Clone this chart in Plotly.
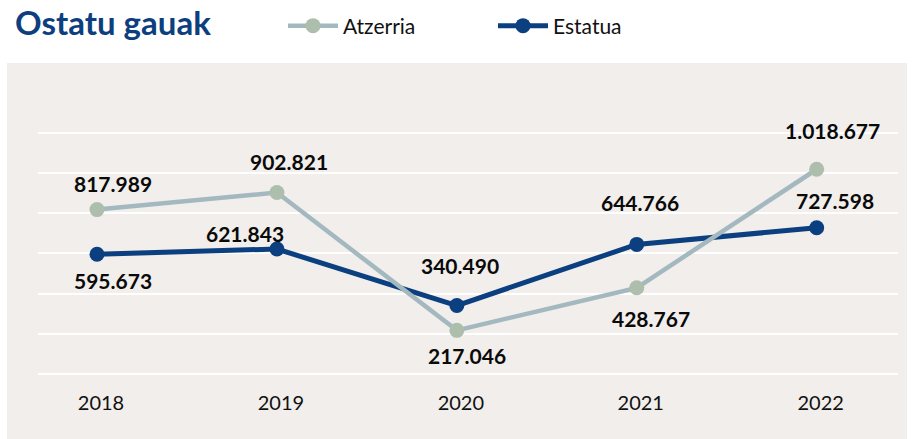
import plotly.graph_objects as go

# ---- data ----
years = ["2018", "2019", "2020", "2021", "2022"]
atzerria = [817989, 902821, 217046, 428767, 1018677]
estatua = [595673, 621843, 340490, 644766, 727598]
series_names = ["Atzerria", "Estatua"]
title_text = "Ostatu gauak"

# ---- style ----
W, H = 914, 439
L, R, T, B = 38, 16, 100, 54
BG = "#f1eeeb"
C_ATZ_LINE = "#a3b9bf"
C_ATZ_MARK = "#adbfac"
C_EST = "#0b3f7f"
TITLE_C = "#0d3f7f"
FONT = "Lato, 'Open Sans', sans-serif"

# label offsets (px) per point: (xshift, yshift)
atz_off = [(16, 26), (12, 31), (10, -25), (14, -31), (16, 39)]
est_off = [(16, -26), (-32, 16), (3, 40), (3, 42), (18, 27)]

xs = list(range(len(years)))

def fmt(v):
    return f"{v:,}".replace(",", ".")

fig = go.Figure()
fig.add_trace(go.Scatter(
    x=xs, y=estatua, name=series_names[1], mode="lines+markers",
    line=dict(color=C_EST, width=5), marker=dict(color=C_EST, size=15),
    legendrank=2, cliponaxis=False))
fig.add_trace(go.Scatter(
    x=xs, y=atzerria, name=series_names[0], mode="lines+markers",
    line=dict(color=C_ATZ_LINE, width=4.5), marker=dict(color=C_ATZ_MARK, size=15),
    legendrank=1, cliponaxis=False))

annotations = []
for vals, offs in ((atzerria, atz_off), (estatua, est_off)):
    for i, (v, (dx, dy)) in enumerate(zip(vals, offs)):
        annotations.append(dict(
            x=xs[i], y=v, text=fmt(v), showarrow=False,
            xshift=dx, yshift=dy,
            font=dict(family=FONT, size=21, color="#0a0a0a", weight="bold")))

# beige panel in pixel terms converted to paper coords
pw, ph = W - L - R, H - T - B
def px_x(p):
    return (p - L) / pw
def px_y(p):
    return (H - B - p) / ph

fig.update_layout(
    width=W, height=H,
    margin=dict(l=L, r=R, t=T, b=B),
    paper_bgcolor="white",
    plot_bgcolor="rgba(0,0,0,0)",
    title=dict(text=title_text, x=15 / W, xanchor="left", y=1 - 23 / H, yanchor="middle",
               xref="container", yref="container",
               font=dict(family=FONT, size=33, color=TITLE_C, weight="bold")),
    legend=dict(orientation="h", xref="container", yref="container",
                x=283 / W, xanchor="left", y=1 - 26 / H, yanchor="middle",
                font=dict(family=FONT, size=21, color="#111111"),
                itemwidth=50,
                entrywidth=145, entrywidthmode="pixels",
                bgcolor="rgba(0,0,0,0)"),
    shapes=[dict(type="rect", xref="paper", yref="paper",
                 x0=px_x(7), x1=px_x(907), y0=px_y(439), y1=px_y(63),
                 fillcolor=BG, line=dict(width=0), layer="below")],
    annotations=annotations,
    xaxis=dict(range=[-0.328, 4.452], tickmode="array", tickvals=xs, ticktext=years,
               showgrid=False, zeroline=False, showline=False, ticks="",
               ticklabelstandoff=4, ticklabelshift=4,
               tickfont=dict(family=FONT, size=20, color="#111111")),
    yaxis=dict(range=[-54726, 1363184], tick0=0, dtick=200000, showticklabels=False,
               showgrid=True, gridcolor="white", gridwidth=1.5,
               zeroline=True, zerolinecolor="white", zerolinewidth=1.5,
               showline=False, ticks=""),
)

fig.write_html("out.html", config={"displayModeBar": False},
               post_script="document.body.style.margin='0';document.body.style.padding='0';")
